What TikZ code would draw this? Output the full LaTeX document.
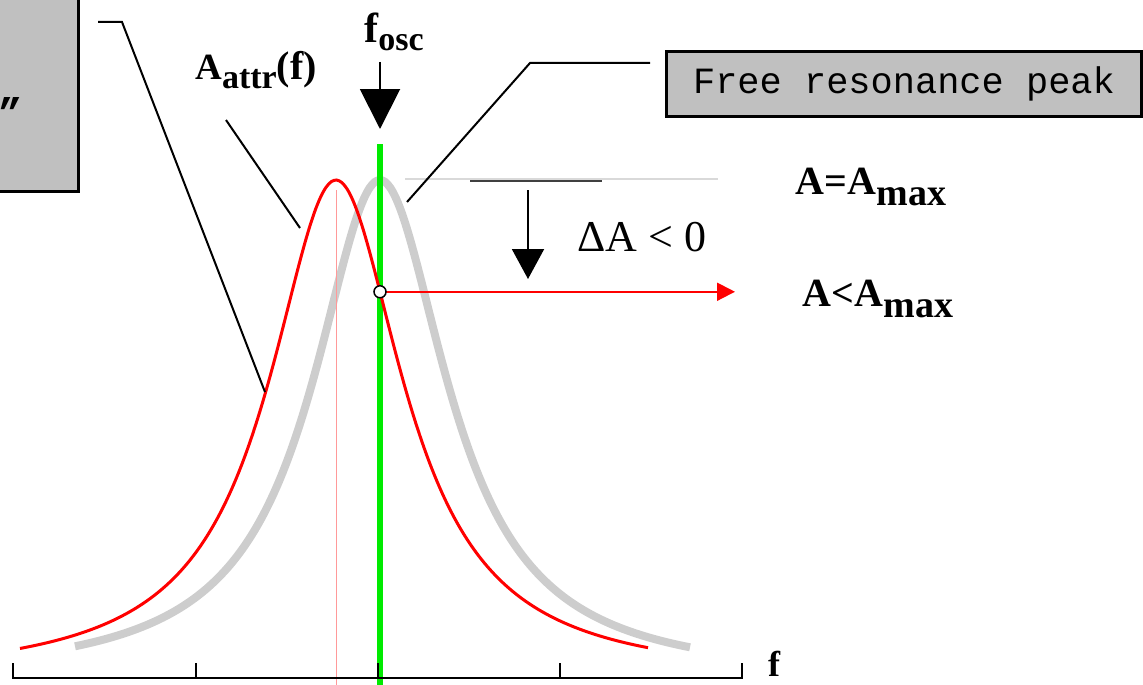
\documentclass[tikz,border=0pt]{standalone}
\usepackage{fontspec}
\setmainfont{Liberation Serif}
\newfontfamily\notefont{Liberation Mono}
\usepackage{xcolor}
\usepackage{tikz}
\usetikzlibrary{positioning, arrows.meta}

\definecolor{boxgray}{RGB}{192,192,192}
\definecolor{peakgray}{RGB}{205,205,205}
\definecolor{oscgreen}{RGB}{0,235,0}

\begin{document}
\begin{tikzpicture}[x=1pt, y=-1pt,
  notebox/.style={draw, line width=3pt, fill=boxgray, inner sep=0pt},
  leader/.style={line width=2pt},
  lbl/.style={inner sep=0pt, font=\bfseries}]
\useasboundingbox (0,0) rectangle (1143,685);
\clip (0,0) rectangle (1143,685);

% curves
\draw[peakgray, line width=8pt, domain=75:690, samples=120, smooth] plot (\x, {680-500/(1+((\x-380)/82)^2)});
\draw[oscgreen, line width=6pt] (380,144) -- (380,685);
\draw[red!40, line width=1pt] (336,190) -- (336,685);
\draw[red, line width=3pt, domain=20:648, samples=120, smooth] plot (\x, {680-500/(1+((\x-336)/82)^2)});

% axis
\draw[line width=2pt] (13,663) -- (13,678) -- (742,678) -- (742,663);
\foreach \t in {196,378,560} \draw[line width=1.5pt] (\t,663) -- (\t,678);
\node[lbl, anchor=base, font=\bfseries\fontsize{36}{36}\selectfont] (faxis) at (774,676) {f};

% max level
\draw[gray!30, line width=2pt] (405,179) -- (718,179);
\draw[black!75, line width=2pt] (470,181) -- (602,181);
\coordinate (mark) at (380,{680-500/(1+(44/82)^2)});
\coordinate (markend) at (735,0);
\draw[red, line width=2pt, -{Triangle[width=18pt, length=18pt]}] (mark) -- (mark -| markend);
\draw[fill=white, line width=1.5pt] (mark) circle (6);

% labels
\node[lbl] (fosc) at (394,32) {\fontsize{42}{42}\selectfont f\raisebox{-8pt}{\fontsize{34}{34}\selectfont osc}};
\draw[line width=2pt, -{Triangle[width=40pt, length=40pt]}] (380,62) -- (380,129);
\node[lbl] (attr) at (256,70) {{\fontsize{37}{37}\selectfont A}\raisebox{-9pt}{\fontsize{34}{34}\selectfont attr}{\fontsize{40}{40}\selectfont(f)}};
\coordinate (attrstart) at (226,120);
\coordinate (attrend) at (300,228);
\draw[leader] (attrstart) -- (attrend);

\draw[line width=2pt, -{Triangle[width=32pt, length=30pt]}] (528,190) -- (528,279);
\node[inner sep=0pt, font=\fontsize{44}{44}\selectfont] (deltaA) at (642,237) {ΔA~<~0};
\node[lbl] (amax) at (871,187) {{\fontsize{40}{40}\selectfont A=A}\raisebox{-11pt}{\fontsize{38}{38}\selectfont max}};
\node[lbl] (aless) at (878,299) {{\fontsize{40}{40}\selectfont A<A}\raisebox{-11pt}{\fontsize{38}{38}\selectfont max}};

% notes
\node[notebox, minimum width=110pt, minimum height=210pt, anchor=south east] (oldnote) at (80,193) {};
\node[inner sep=0pt, font=\notefont\bfseries\fontsize{40}{40}\selectfont] (oldquote) at (11,112) {”};
\coordinate (oldstart) at (98,22);
\coordinate (oldknee) at (122,22);
\coordinate (oldend) at (265,392);
\draw[leader] (oldstart) -- (oldknee) -- (oldend);

\node[notebox, minimum width=475pt, minimum height=65pt, anchor=north west, font=\notefont\fontsize{37}{37}\selectfont] (peaknote) at (665,50) {Free resonance peak};
\coordinate (peakstart) at (650,63);
\coordinate (peakknee) at (530,63);
\coordinate (peakend) at (407,202);
\draw[leader] (peakstart) -- (peakknee) -- (peakend);
\end{tikzpicture}
\end{document}
